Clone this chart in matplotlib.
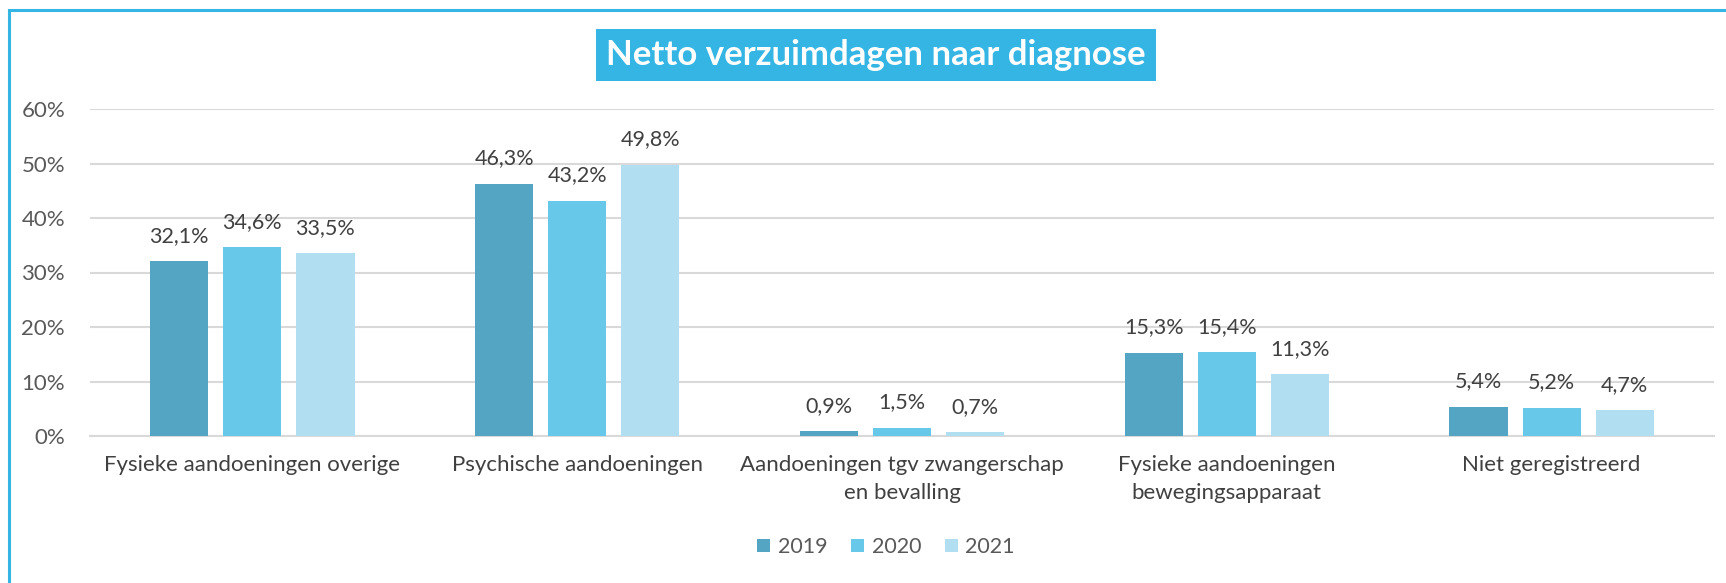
import matplotlib
matplotlib.use("Agg")
import matplotlib.pyplot as plt
import numpy as np
from matplotlib.patches import Rectangle
from matplotlib.ticker import FuncFormatter

categories = ["Fysieke aandoeningen overige", "Psychische aandoeningen",
              "Aandoeningen tgv zwangerschap\nen bevalling",
              "Fysieke aandoeningen\nbewegingsapparaat", "Niet geregistreerd"]
years = ["2019", "2020", "2021"]
v2019 = [32.1, 46.3, 0.9, 15.3, 5.4]
v2020 = [34.6, 43.2, 1.5, 15.4, 5.2]
v2021 = [33.5, 49.8, 0.7, 11.3, 4.7]
colors = ["#54A5C3", "#67C8EA", "#B2DEF2"]

plt.rcParams['font.family'] = ['Lato', 'DejaVu Sans']
W, H = 1726, 583
fig = plt.figure(figsize=(W/100, H/100), dpi=100)
ax = fig.add_axes([90/W, 1-436/H, (1714-90)/W, (436-109)/H])

x = np.arange(len(categories))
bw = 0.179
step = 0.225
txt = "#595959"
for i, (vals, c, yr) in enumerate(zip([v2019, v2020, v2021], colors, years)):
    pos = x + (i-1)*step
    ax.bar(pos, [v/100 for v in vals], width=bw, color=c, label=yr, zorder=3)
    for p, v in zip(pos, vals):
        ax.annotate(f"{v:.1f}%".replace(".", ","), (p, v/100), xytext=(0, 11),
                    textcoords="offset points", ha="center", va="bottom",
                    fontsize=15.5, color="#404040")

ax.set_xlim(-0.5, len(categories)-0.5)
ax.set_ylim(0, 0.6)
ax.set_yticks(np.arange(0, 0.61, 0.1))
ax.yaxis.set_major_formatter(FuncFormatter(lambda v, p: f"{v*100:.0f}%"))
ax.grid(axis="y", color="#D9D9D9", linewidth=1.5, zorder=0)
for s in ["top", "right", "left"]:
    ax.spines[s].set_visible(False)
ax.spines["bottom"].set_color("#D9D9D9")
ax.spines["bottom"].set_linewidth(1.5)
ax.tick_params(axis="y", length=0, labelsize=16, labelcolor=txt, pad=18)
ax.tick_params(axis="x", length=0, labelsize=16, labelcolor="#404040", pad=14)
ax.set_xticks(x)
ax.set_xticklabels(categories, linespacing=1.5)

# title box
fig.text(876/W, 1-55/H, "Netto verzuimdagen naar diagnose", ha="center", va="center",
         fontsize=25, fontweight="bold", color="white",
         bbox=dict(boxstyle="square,pad=0.3", facecolor="#35B5E3", edgecolor="none"))

# border
fig.patches.append(Rectangle((8.5/W, -0.1), 1.2, 1.1 - 10/H, transform=fig.transFigure,
                             fill=False, edgecolor="#35B5E3", linewidth=2.2))

fig.legend(loc="center", bbox_to_anchor=(886/W, 1-547/H), ncol=3, frameon=False,
           fontsize=15.5, labelcolor=txt, handlelength=0.6, handleheight=0.6,
           handletextpad=0.35, columnspacing=1.1)

fig.savefig("out.png", dpi=100, facecolor="white")
